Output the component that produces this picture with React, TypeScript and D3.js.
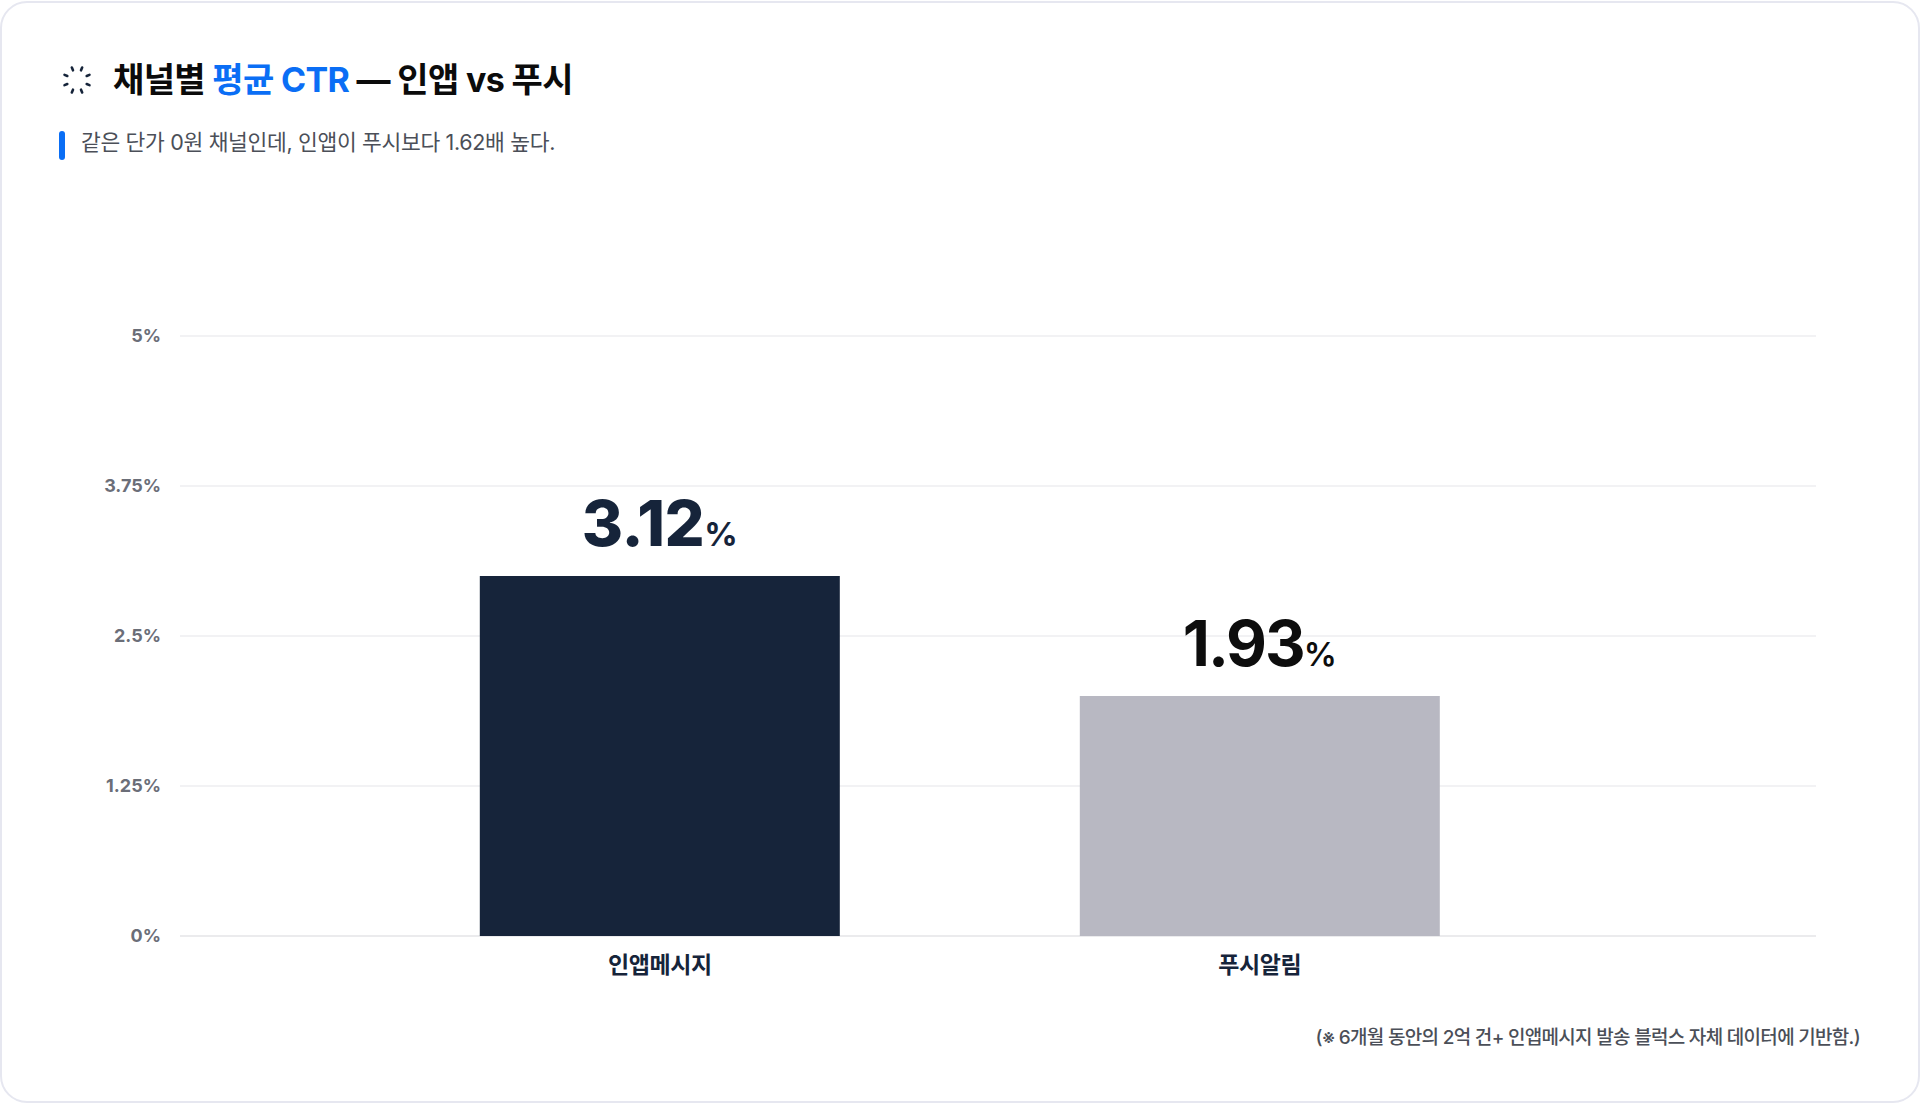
import React, { useEffect, useRef } from 'react';
import * as d3 from 'd3';

const categories = ['인앱메시지', '푸시알림'];
// bar heights as drawn in the picture (they sit on 3 and 2, not on the printed labels)
const barValues = [3, 2];
const valueLabels = ['3.12', '1.93'];
const yTicks = [0, 1.25, 2.5, 3.75, 5];
const barColors = ['#16243a', '#b8b8c2'];
const labelColors = ['#16243a', '#0d0d0d'];
const labelWeights = ['800', '700'];
const unitWeights = ['700', '600'];

const FONT = "Inter, 'Noto Sans CJK KR', sans-serif";

export default function App() {
  const svgRef = useRef<SVGSVGElement>(null);

  useEffect(() => {
    if (!svgRef.current) return;
    const svg = d3.select(svgRef.current);
    svg.selectAll('*').remove();

    // Card
    svg.append('rect')
      .attr('x', 1)
      .attr('y', 2)
      .attr('width', 1918)
      .attr('height', 1100)
      .attr('rx', 26)
      .attr('fill', '#fff')
      .attr('stroke', '#e6e7f0')
      .attr('stroke-width', 2);

    // Icon
    const icon = svg.append('g').attr('transform', 'translate(77,80)');
    d3.range(8).forEach(i => {
      const a = (Math.PI / 4) * i + Math.PI / 8;
      icon.append('line')
        .attr('x1', Math.cos(a) * 10.5)
        .attr('y1', Math.sin(a) * 10.5)
        .attr('x2', Math.cos(a) * 13.5)
        .attr('y2', Math.sin(a) * 13.5)
        .attr('stroke', '#16243a')
        .attr('stroke-width', 2.6)
        .attr('stroke-linecap', 'round');
    });

    // Title
    const title = svg.append('text')
      .attr('x', 113)
      .attr('y', 92)
      .style('font-family', FONT)
      .style('font-size', '34px')
      .style('font-weight', '700')
      .style('letter-spacing', '-0.65px')
      .attr('fill', '#0b0b0b');
    title.append('tspan').text('채널별 ');
    title.append('tspan').attr('fill', '#0a6ef5').text('평균 CTR');
    title.append('tspan').text(' — 인앱 vs 푸시');

    // Subtitle
    svg.append('rect')
      .attr('x', 59)
      .attr('y', 131)
      .attr('width', 6)
      .attr('height', 29)
      .attr('rx', 3)
      .attr('fill', '#0a6ef5');
    svg.append('text')
      .attr('x', 81)
      .attr('y', 150)
      .style('font-family', FONT)
      .style('font-size', '21.5px')
      .style('font-weight', '400')
      .style('letter-spacing', '-0.33px')
      .attr('fill', '#4b4f58')
      .text('같은 단가 0원 채널인데, 인앱이 푸시보다 1.62배 높다.');

    // Scales
    const x = d3.scaleBand<string>()
      .domain(categories)
      .range([359.8, 1559.8])
      .paddingInner(0.4)
      .paddingOuter(0.2);
    const y = d3.scaleLinear().domain([0, 5]).range([936, 336]);

    // Grid + tick labels
    const grid = svg.append('g')
      .attr('transform', 'translate(180,0)')
      .call(d3.axisLeft(y).offset(0).tickValues(yTicks).tickSize(-1636).tickPadding(19).tickFormat(d => `${d}%`));
    grid.select('.domain').remove();
    grid.selectAll('.tick line')
      .attr('stroke', (d: any) => (d === 0 ? '#e4e4e7' : '#eeeef0'))
      .attr('stroke-width', 1.5);
    grid.selectAll('.tick text')
      .style('font-family', FONT)
      .style('font-size', '18px')
      .style('font-weight', '700')
      .attr('fill', '#6b6e78');

    // Bars
    svg.selectAll('.bar')
      .data(categories)
      .enter()
      .append('rect')
      .attr('class', 'bar')
      .attr('x', d => x(d) || 0)
      .attr('y', (_, i) => y(barValues[i]))
      .attr('width', x.bandwidth())
      .attr('height', (_, i) => y(0) - y(barValues[i]))
      .attr('fill', (_, i) => barColors[i]);

    // Value labels
    const labels = svg.selectAll('.value')
      .data(categories)
      .enter()
      .append('text')
      .attr('class', 'value')
      .attr('x', d => (x(d) || 0) + x.bandwidth() / 2)
      .attr('y', (_, i) => y(barValues[i]) - 30)
      .attr('text-anchor', 'middle')
      .style('font-family', FONT)
      .attr('fill', (_, i) => labelColors[i]);
    labels.append('tspan')
      .style('font-size', '63px')
      .style('font-weight', (_, i) => labelWeights[i])
      .style('letter-spacing', (_, i) => (i === 0 ? '-0.5px' : '-2px'))
      .text((_, i) => valueLabels[i]);
    labels.append('tspan')
      .style('font-size', '33px')
      .style('font-weight', (_, i) => unitWeights[i])
      .text('%');

    // Category labels
    svg.selectAll('.cat')
      .data(categories)
      .enter()
      .append('text')
      .attr('class', 'cat')
      .attr('x', d => (x(d) || 0) + x.bandwidth() / 2)
      .attr('y', 973)
      .attr('text-anchor', 'middle')
      .style('font-family', FONT)
      .style('font-size', '23px')
      .style('font-weight', '700')
      .style('letter-spacing', '-0.4px')
      .attr('fill', '#16243a')
      .text(d => d);

    // Footnote
    svg.append('text')
      .attr('x', 1860)
      .attr('y', 1044)
      .attr('text-anchor', 'end')
      .style('font-family', FONT)
      .style('font-size', '19px')
      .style('font-weight', '500')
      .style('letter-spacing', '-0.7px')
      .attr('fill', '#4b4f58')
      .text('(※ 6개월 동안의 2억 건+ 인앱메시지 발송 블럭스 자체 데이터에 기반함.)');
  }, []);

  return (
    <svg
      ref={svgRef}
      width={1920}
      height={1104}
      viewBox="0 0 1920 1104"
      style={{ position: 'absolute', left: 0, top: 0, display: 'block' }}
    />
  );
}
